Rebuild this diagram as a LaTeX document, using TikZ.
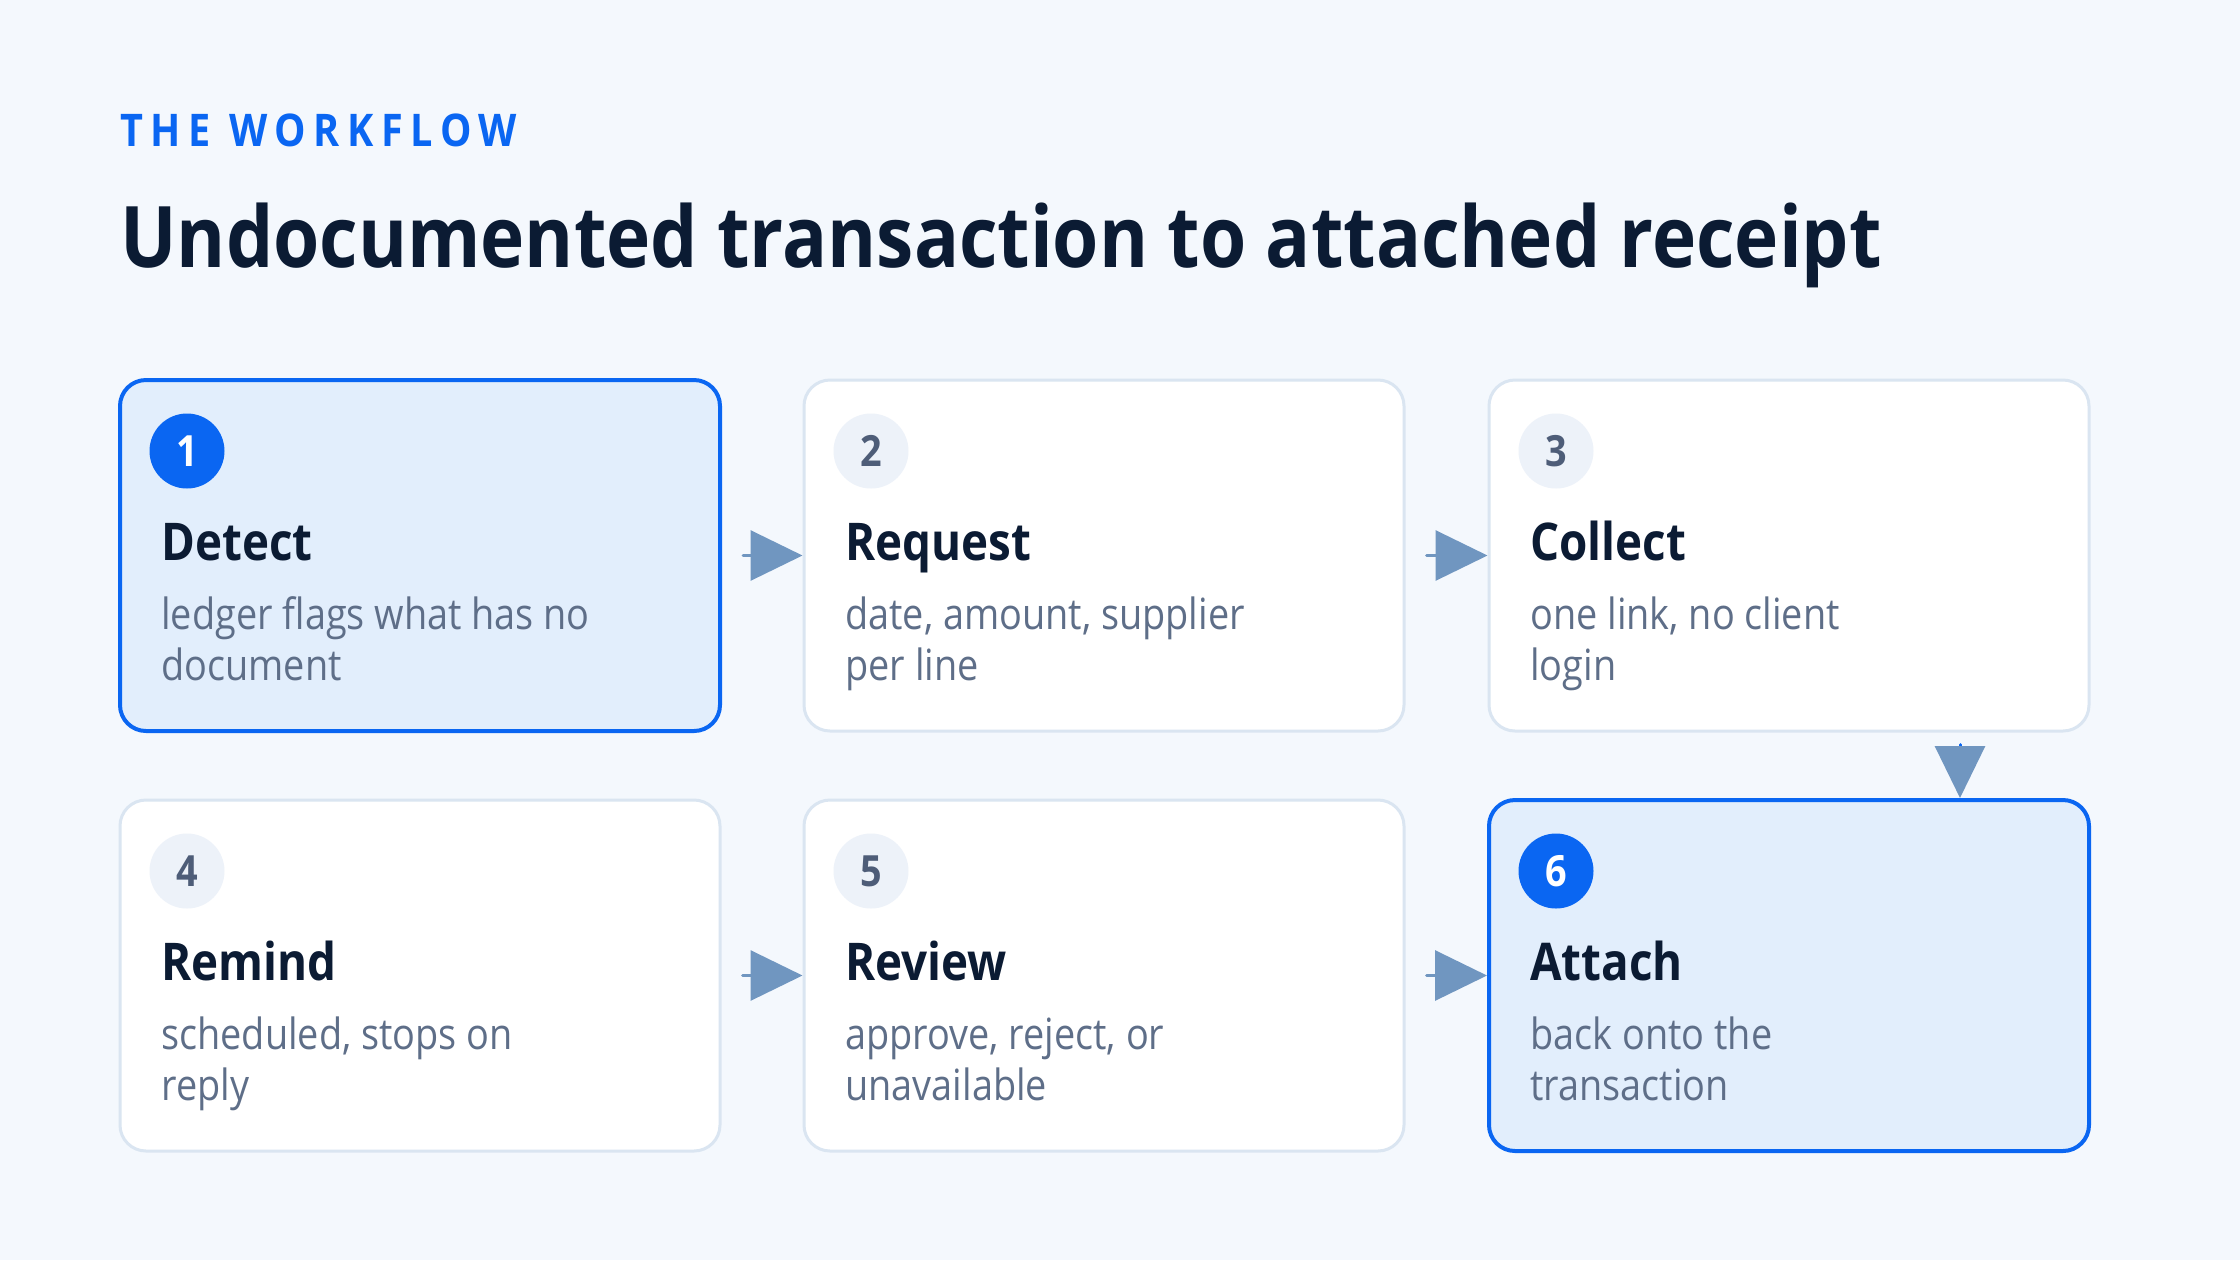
\documentclass[tikz,border=0pt]{standalone}
\usepackage{fontspec}
\setmainfont{Open Sans}[FakeStretch=0.88]
\usetikzlibrary{arrows.meta}
\definecolor{bgc}{HTML}{F4F8FD}
\definecolor{inkc}{HTML}{0B1B33}
\definecolor{bluec}{HTML}{0A66F2}
\definecolor{hifill}{HTML}{E2EEFC}
\definecolor{edgec}{HTML}{DAE5F1}
\definecolor{badgec}{HTML}{EDF2F9}
\definecolor{numc}{HTML}{4E5D78}
\definecolor{descc}{HTML}{5E6E88}
\definecolor{arrc}{HTML}{7096C0}
\tikzset{
  card/.style={rectangle, rounded corners=13pt, minimum width=300pt, minimum height=175.5pt, inner sep=0pt, line width=1.5pt, draw=edgec, fill=white},
  hicard/.style={card, draw=bluec, fill=hifill, line width=2pt},
  badge/.style={circle, minimum size=37.5pt, inner sep=0pt, fill=badgec, text=numc, font=\fontsize{21.5}{21.5}\selectfont\bfseries},
  hibadge/.style={badge, fill=bluec, text=white},
  ttl/.style={anchor=base west, inner sep=0pt, text=inkc, font=\fontsize{26}{30}\selectfont\bfseries},
  desc/.style={anchor=base west, inner sep=0pt, text=descc, font=\fontsize{21.5}{25}\selectfont},
  flow/.style={draw=arrc, line width=1.5pt, line cap=round, -{Triangle[length=26pt, width=25pt, color=arrc]}}
}
\begin{document}
\begin{tikzpicture}[x=0.5pt, y=-0.5pt]
\fill[bgc] (0,0) rectangle (2240,1260);
\useasboundingbox (0,0) rectangle (2240,1260);
\node[anchor=base west, inner sep=0pt, text=bluec, font=\fontsize{22.5}{22.5}\selectfont\bfseries\addfontfeature{LetterSpace=17}] (kicker) at (120,146) {THE WORKFLOW};
\node[anchor=base west, inner sep=0pt, text=inkc, font=\fontsize{42.5}{42.5}\selectfont\bfseries] (head) at (120,267) {Undocumented transaction to attached receipt};
% cards
\node[hicard] (b1) at (420,555.5) {};
\node[card] (b2) at (1104,555.5) {};
\node[card] (b3) at (1789,555.5) {};
\node[card] (b4) at (420,975.5) {};
\node[card] (b5) at (1104,975.5) {};
\node[hicard] (b6) at (1789,975.5) {};
% badges
\node[hibadge] (n1) at (187,451) {1};
\node[badge] (n2) at (871,451) {2};
\node[badge] (n3) at (1556,451) {3};
\node[badge] (n4) at (187,871) {4};
\node[badge] (n5) at (871,871) {5};
\node[hibadge] (n6) at (1556,871) {6};
% titles
\node[ttl] (t1) at (161,560) {Detect};
\node[ttl] (t2) at (845,560) {Request};
\node[ttl] (t3) at (1530,560) {Collect};
\node[ttl] (t4) at (161,980) {Remind};
\node[ttl] (t5) at (845,980) {Review};
\node[ttl] (t6) at (1530,980) {Attach};
% descriptions
\node[desc] (d1a) at (161,629) {ledger flags what has no};
\node[desc] (d1b) at (161,680) {document};
\node[desc] (d2a) at (845,629) {date, amount, supplier};
\node[desc] (d2b) at (845,680) {per line};
\node[desc] (d3a) at (1530,629) {one link, no client};
\node[desc] (d3b) at (1530,680) {login};
\node[desc] (d4a) at (161,1049) {scheduled, stops on};
\node[desc] (d4b) at (161,1100) {reply};
\node[desc] (d5a) at (845,1049) {approve, reject, or};
\node[desc] (d5b) at (845,1100) {unavailable};
\node[desc] (d6a) at (1530,1049) {back onto the};
\node[desc] (d6b) at (1530,1100) {transaction};
% connectors
\draw[flow, shorten <=10.5pt] (b1) -- (b2);
\draw[flow, shorten <=10.5pt] (b2) -- (b3);
\draw[flow, shorten <=10.5pt] (b4) -- (b5);
\draw[flow, shorten <=10.5pt] (b5) -- (b6);
\draw[flow, draw=bluec, shorten <=6pt] ([xshift=85.5pt]b3.south) -- ([xshift=85.5pt]b6.north);
\end{tikzpicture}
\end{document}
